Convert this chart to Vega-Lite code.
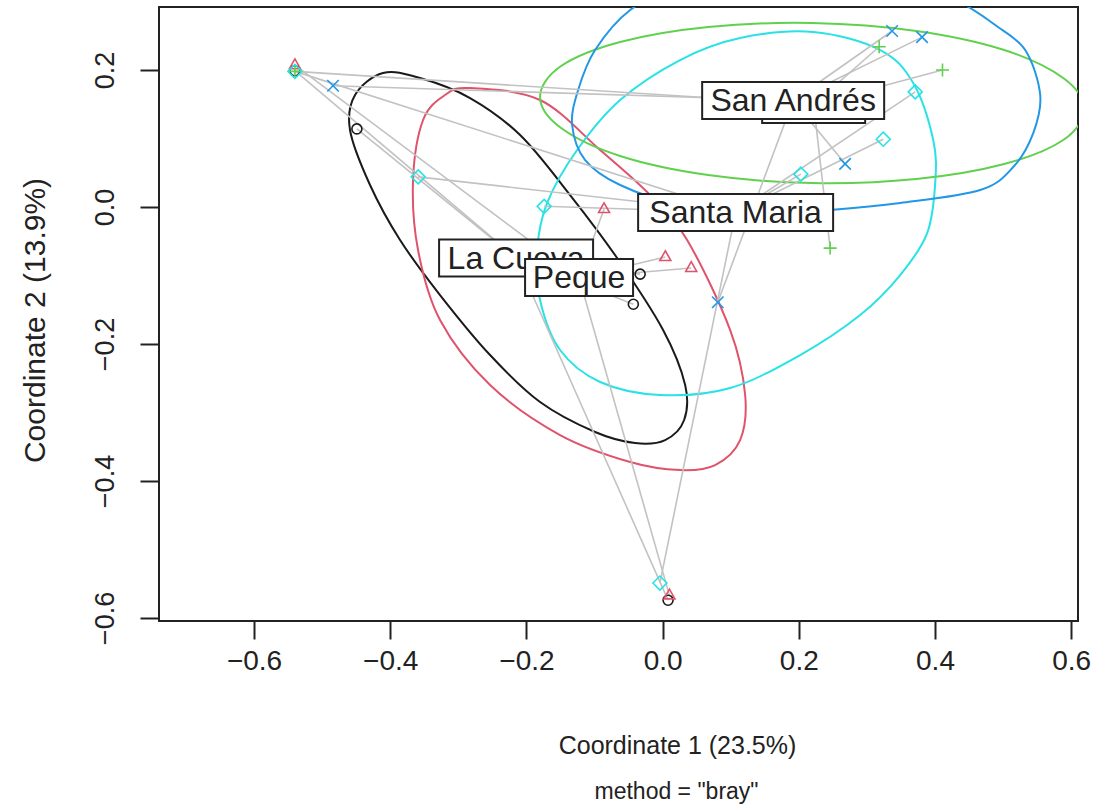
{
  "$schema": "https://vega.github.io/schema/vega-lite/v6.json",
  "width": 919,
  "height": 614,
  "autosize": {"type": "none"},
  "padding": {"left": 159, "top": 7, "right": 20, "bottom": 191},
  "background": "white",
  "title": {
    "text": "method = \"bray\"",
    "orient": "bottom", "anchor": "middle", "frame": "group",
    "dx": 58, "offset": 23,
    "fontSize": 23, "font": "Liberation Sans", "fontWeight": "normal", "color": "#222222"
  },
  "config": {
    "view": {"stroke": "#222222", "strokeWidth": 2},
    "font": "Liberation Sans"
  },
  "datasets": {
    "pts": [
      {"group": "La Cueva", "x": -0.540, "y": 0.199},
      {"group": "La Cueva", "x": -0.449, "y": 0.114},
      {"group": "La Cueva", "x": -0.033, "y": -0.098},
      {"group": "La Cueva", "x": -0.043, "y": -0.142},
      {"group": "La Cueva", "x": 0.008, "y": -0.574},
      {"group": "Peque", "x": -0.540, "y": 0.207},
      {"group": "Peque", "x": -0.086, "y": -0.003},
      {"group": "Peque", "x": 0.004, "y": -0.073},
      {"group": "Peque", "x": 0.042, "y": -0.089},
      {"group": "Peque", "x": 0.010, "y": -0.567},
      {"group": "grupo 3", "x": -0.540, "y": 0.198},
      {"group": "grupo 3", "x": 0.318, "y": 0.234},
      {"group": "grupo 3", "x": 0.411, "y": 0.200},
      {"group": "grupo 3", "x": 0.246, "y": -0.060},
      {"group": "San Andrés", "x": -0.484, "y": 0.177},
      {"group": "San Andrés", "x": 0.337, "y": 0.257},
      {"group": "San Andrés", "x": 0.381, "y": 0.248},
      {"group": "San Andrés", "x": 0.268, "y": 0.063},
      {"group": "San Andrés", "x": 0.081, "y": -0.139},
      {"group": "Santa Maria", "x": -0.540, "y": 0.198},
      {"group": "Santa Maria", "x": -0.359, "y": 0.044},
      {"group": "Santa Maria", "x": -0.174, "y": 0.001},
      {"group": "Santa Maria", "x": -0.004, "y": -0.549},
      {"group": "Santa Maria", "x": 0.203, "y": 0.048},
      {"group": "Santa Maria", "x": 0.324, "y": 0.099},
      {"group": "Santa Maria", "x": 0.371, "y": 0.168}
    ],
    "centroids": [
      {"group": "La Cueva", "label": "La Cueva", "cx": -0.2152, "cy": -0.0745},
      {"group": "Peque", "label": "Peque", "cx": -0.1227, "cy": -0.1029},
      {"group": "grupo 3", "label": "grupo 3", "cx": 0.2218, "cy": 0.1497},
      {"group": "San Andrés", "label": "San Andrés", "cx": 0.1917, "cy": 0.1555},
      {"group": "Santa Maria", "label": "Santa Maria", "cx": 0.1072, "cy": -0.0080}
    ],
    "ellipses": [
      {"group": "La Cueva", "i": 0, "x": -0.4106, "y": 0.1956},
      {"group": "La Cueva", "i": 1, "x": -0.3562, "y": 0.1883},
      {"group": "La Cueva", "i": 2, "x": -0.2828, "y": 0.1591},
      {"group": "La Cueva", "i": 3, "x": -0.2093, "y": 0.1051},
      {"group": "La Cueva", "i": 4, "x": -0.1359, "y": 0.0175},
      {"group": "La Cueva", "i": 5, "x": -0.0668, "y": -0.0745},
      {"group": "La Cueva", "i": 6, "x": 0.0007, "y": -0.1796},
      {"group": "La Cueva", "i": 7, "x": 0.0331, "y": -0.2599},
      {"group": "La Cueva", "i": 8, "x": 0.0316, "y": -0.3110},
      {"group": "La Cueva", "i": 9, "x": 0.0037, "y": -0.3402},
      {"group": "La Cueva", "i": 10, "x": -0.0404, "y": -0.3446},
      {"group": "La Cueva", "i": 11, "x": -0.0992, "y": -0.3285},
      {"group": "La Cueva", "i": 12, "x": -0.1800, "y": -0.2847},
      {"group": "La Cueva", "i": 13, "x": -0.2534, "y": -0.2161},
      {"group": "La Cueva", "i": 14, "x": -0.3269, "y": -0.1285},
      {"group": "La Cueva", "i": 15, "x": -0.3856, "y": -0.0482},
      {"group": "La Cueva", "i": 16, "x": -0.4297, "y": 0.0321},
      {"group": "La Cueva", "i": 17, "x": -0.4591, "y": 0.1124},
      {"group": "La Cueva", "i": 18, "x": -0.4517, "y": 0.1635},
      {"group": "Peque", "i": 0, "x": -0.2828, "y": 0.1737},
      {"group": "Peque", "i": 1, "x": -0.1800, "y": 0.1562},
      {"group": "Peque", "i": 2, "x": -0.0918, "y": 0.0832},
      {"group": "Peque", "i": 3, "x": -0.0184, "y": 0.0175},
      {"group": "Peque", "i": 4, "x": 0.0360, "y": -0.0482},
      {"group": "Peque", "i": 5, "x": 0.0992, "y": -0.1796},
      {"group": "Peque", "i": 6, "x": 0.1212, "y": -0.2745},
      {"group": "Peque", "i": 7, "x": 0.1138, "y": -0.3402},
      {"group": "Peque", "i": 8, "x": 0.0771, "y": -0.3767},
      {"group": "Peque", "i": 9, "x": 0.0257, "y": -0.3840},
      {"group": "Peque", "i": 10, "x": -0.0477, "y": -0.3723},
      {"group": "Peque", "i": 11, "x": -0.1506, "y": -0.3329},
      {"group": "Peque", "i": 12, "x": -0.2534, "y": -0.2599},
      {"group": "Peque", "i": 13, "x": -0.3269, "y": -0.1650},
      {"group": "Peque", "i": 14, "x": -0.3592, "y": -0.0628},
      {"group": "Peque", "i": 15, "x": -0.3665, "y": 0.0394},
      {"group": "Peque", "i": 16, "x": -0.3518, "y": 0.1270},
      {"group": "Peque", "i": 17, "x": -0.3195, "y": 0.1635},
      {"group": "Santa Maria", "i": 0, "x": 0.2211, "y": 0.2555},
      {"group": "Santa Maria", "i": 1, "x": 0.3195, "y": 0.2292},
      {"group": "Santa Maria", "i": 2, "x": 0.3680, "y": 0.1810},
      {"group": "Santa Maria", "i": 3, "x": 0.3974, "y": 0.0978},
      {"group": "Santa Maria", "i": 4, "x": 0.4003, "y": 0.0350},
      {"group": "Santa Maria", "i": 5, "x": 0.3885, "y": -0.0380},
      {"group": "Santa Maria", "i": 6, "x": 0.3489, "y": -0.0993},
      {"group": "Santa Maria", "i": 7, "x": 0.2901, "y": -0.1577},
      {"group": "Santa Maria", "i": 8, "x": 0.2020, "y": -0.2161},
      {"group": "Santa Maria", "i": 9, "x": 0.0992, "y": -0.2643},
      {"group": "Santa Maria", "i": 10, "x": -0.0037, "y": -0.2745},
      {"group": "Santa Maria", "i": 11, "x": -0.0918, "y": -0.2555},
      {"group": "Santa Maria", "i": 12, "x": -0.1506, "y": -0.2088},
      {"group": "Santa Maria", "i": 13, "x": -0.1800, "y": -0.1358},
      {"group": "Santa Maria", "i": 14, "x": -0.1843, "y": -0.0628},
      {"group": "Santa Maria", "i": 15, "x": -0.1697, "y": 0.0058},
      {"group": "Santa Maria", "i": 16, "x": -0.1256, "y": 0.0832},
      {"group": "Santa Maria", "i": 17, "x": -0.0624, "y": 0.1562},
      {"group": "Santa Maria", "i": 18, "x": 0.0257, "y": 0.2146},
      {"group": "Santa Maria", "i": 19, "x": 0.1138, "y": 0.2467},
      {"group": "grupo 3", "i": 0, "x": 0.6192, "y": 0.1431},
      {"group": "grupo 3", "i": 1, "x": 0.5883, "y": 0.1883},
      {"group": "grupo 3", "i": 2, "x": 0.5017, "y": 0.2292},
      {"group": "grupo 3", "i": 3, "x": 0.3724, "y": 0.2570},
      {"group": "grupo 3", "i": 4, "x": 0.2196, "y": 0.2686},
      {"group": "grupo 3", "i": 5, "x": 0.0668, "y": 0.2628},
      {"group": "grupo 3", "i": 6, "x": -0.0624, "y": 0.2409},
      {"group": "grupo 3", "i": 7, "x": -0.1491, "y": 0.2058},
      {"group": "grupo 3", "i": 8, "x": -0.1800, "y": 0.1606},
      {"group": "grupo 3", "i": 9, "x": -0.1491, "y": 0.1153},
      {"group": "grupo 3", "i": 10, "x": -0.0624, "y": 0.0745},
      {"group": "grupo 3", "i": 11, "x": 0.0668, "y": 0.0467},
      {"group": "grupo 3", "i": 12, "x": 0.2196, "y": 0.0350},
      {"group": "grupo 3", "i": 13, "x": 0.3724, "y": 0.0409},
      {"group": "grupo 3", "i": 14, "x": 0.5017, "y": 0.0628},
      {"group": "grupo 3", "i": 15, "x": 0.5883, "y": 0.0978},
      {"group": "San Andrés", "i": 0, "x": -0.1329, "y": 0.1197},
      {"group": "San Andrés", "i": 1, "x": -0.1138, "y": 0.0686},
      {"group": "San Andrés", "i": 2, "x": -0.0624, "y": 0.0321},
      {"group": "San Andrés", "i": 3, "x": 0.0257, "y": 0.0029},
      {"group": "San Andrés", "i": 4, "x": 0.1432, "y": -0.0102},
      {"group": "San Andrés", "i": 5, "x": 0.2460, "y": -0.0044},
      {"group": "San Andrés", "i": 6, "x": 0.3489, "y": 0.0058},
      {"group": "San Andrés", "i": 7, "x": 0.4664, "y": 0.0248},
      {"group": "San Andrés", "i": 8, "x": 0.5149, "y": 0.0584},
      {"group": "San Andrés", "i": 9, "x": 0.5443, "y": 0.1080},
      {"group": "San Andrés", "i": 10, "x": 0.5545, "y": 0.1635},
      {"group": "San Andrés", "i": 11, "x": 0.5325, "y": 0.2292},
      {"group": "San Andrés", "i": 12, "x": 0.4884, "y": 0.2657},
      {"group": "San Andrés", "i": 13, "x": 0.4443, "y": 0.2949},
      {"group": "San Andrés", "i": 14, "x": 0.3782, "y": 0.3285},
      {"group": "San Andrés", "i": 15, "x": 0.2754, "y": 0.3460},
      {"group": "San Andrés", "i": 16, "x": 0.1432, "y": 0.3460},
      {"group": "San Andrés", "i": 17, "x": 0.0257, "y": 0.3241},
      {"group": "San Andrés", "i": 18, "x": -0.0477, "y": 0.2876},
      {"group": "San Andrés", "i": 19, "x": -0.0992, "y": 0.2292},
      {"group": "San Andrés", "i": 20, "x": -0.1241, "y": 0.1708}
    ]
  },
  "layer": [
    {
      "data": {"name": "ellipses"},
      "mark": {"type": "line", "interpolate": "cardinal-closed", "strokeWidth": 2, "clip": true},
      "encoding": {
        "x": {
          "field": "x", "type": "quantitative",
          "scale": {"domain": [-0.7396, 0.610], "nice": false, "zero": false},
          "axis": {
            "values": [-0.6, -0.4, -0.2, 0, 0.2, 0.4, 0.6],
            "format": ".1f", "grid": false, "domain": false,
            "tickSize": 18, "tickWidth": 2, "tickColor": "#222222",
            "labelFontSize": 28, "labelFont": "Liberation Sans", "labelColor": "#222222",
            "labelPadding": 8, "labelFlush": false, "labelOverlap": false, "labelBaseline": "top",
            "title": "Coordinate 1 (23.5%)",
            "titleFontSize": 25, "titleFont": "Liberation Sans", "titleFontWeight": "normal", "titleColor": "#222222",
            "titleX": 518, "titleY": 124, "titleBaseline": "middle", "titleAlign": "center"
          }
        },
        "y": {
          "field": "y", "type": "quantitative",
          "scale": {"domain": [-0.6044, 0.292], "nice": false, "zero": false},
          "axis": {
            "values": [-0.6, -0.4, -0.2, 0, 0.2],
            "format": ".1f", "grid": false, "domain": false,
            "tickSize": 19, "tickWidth": 2, "tickColor": "#222222",
            "labelFontSize": 27, "labelFont": "Liberation Sans", "labelColor": "#222222",
            "labelAngle": -90, "labelAlign": "center", "labelBaseline": "alphabetic",
            "labelPadding": 27, "labelFlush": false, "labelOverlap": false,
            "title": "Coordinate 2 (13.9%)",
            "titleFontSize": 30, "titleFont": "Liberation Sans", "titleFontWeight": "normal", "titleColor": "#222222",
            "titleAngle": -90, "titleX": -124, "titleY": 313, "titleBaseline": "middle", "titleAlign": "center"
          }
        },
        "detail": {"field": "group"},
        "order": {"field": "i", "type": "quantitative"},
        "color": {
          "field": "group", "type": "nominal", "legend": null,
          "scale": {
            "domain": ["La Cueva", "Peque", "grupo 3", "San Andrés", "Santa Maria"],
            "range": ["#1a1a1a", "#DF536B", "#61D04F", "#2297E6", "#28E2E5"]
          }
        }
      }
    },
    {
      "data": {"name": "pts"},
      "transform": [
        {"lookup": "group", "from": {"data": {"name": "centroids"}, "key": "group", "fields": ["cx", "cy"]}}
      ],
      "mark": {"type": "rule", "color": "#c2c2c2", "strokeWidth": 1.6},
      "encoding": {
        "x": {"field": "x", "type": "quantitative"},
        "y": {"field": "y", "type": "quantitative"},
        "x2": {"field": "cx"},
        "y2": {"field": "cy"}
      }
    },
    {
      "data": {"name": "pts"},
      "mark": {"type": "point", "filled": false, "strokeWidth": 1.6, "size": 100, "opacity": 1},
      "encoding": {
        "x": {"field": "x", "type": "quantitative"},
        "y": {"field": "y", "type": "quantitative"},
        "color": {"field": "group", "type": "nominal", "legend": null},
        "shape": {
          "field": "group", "type": "nominal", "legend": null,
          "scale": {
            "domain": ["La Cueva", "Peque", "grupo 3", "San Andrés", "Santa Maria"],
            "range": [
              "circle",
              "M0,-1.25L1.1,0.7L-1.1,0.7Z",
              "M-1.3,0H1.3M0,-1.3V1.3",
              "M-1.15,-1.15L1.15,1.15M-1.15,1.15L1.15,-1.15",
              "M-1.4,0L0,-1.4L1.4,0L0,1.4Z"
            ]
          }
        }
      }
    },
    {
      "data": {"name": "centroids"},
      "transform": [{"filter": "datum.label === 'grupo 3'"}],
      "mark": {"type": "point", "shape": "M-51.5,-18.5H51.5V18.5H-51.5Z", "size": 4, "filled": true, "fill": "white", "stroke": "#222222", "strokeWidth": 2, "opacity": 1},
      "encoding": {"x": {"field": "cx", "type": "quantitative"}, "y": {"field": "cy", "type": "quantitative"}}
    },
    {
      "data": {"name": "centroids"},
      "transform": [{"filter": "datum.label === 'San Andrés'"}],
      "mark": {"type": "point", "shape": "M-91,-18.5H91V18.5H-91Z", "size": 4, "filled": true, "fill": "white", "stroke": "#222222", "strokeWidth": 2, "opacity": 1},
      "encoding": {"x": {"field": "cx", "type": "quantitative"}, "y": {"field": "cy", "type": "quantitative"}}
    },
    {
      "data": {"name": "centroids"},
      "transform": [{"filter": "datum.label === 'San Andrés'"}],
      "mark": {"type": "text", "fontSize": 32, "font": "Liberation Sans", "color": "#222222", "align": "center", "baseline": "middle", "dy": 1},
      "encoding": {"x": {"field": "cx", "type": "quantitative"}, "y": {"field": "cy", "type": "quantitative"}, "text": {"field": "label"}}
    },
    {
      "data": {"name": "centroids"},
      "transform": [{"filter": "datum.label === 'La Cueva'"}],
      "mark": {"type": "point", "shape": "M-77,-18.5H77V18.5H-77Z", "size": 4, "filled": true, "fill": "white", "stroke": "#222222", "strokeWidth": 2, "opacity": 1},
      "encoding": {"x": {"field": "cx", "type": "quantitative"}, "y": {"field": "cy", "type": "quantitative"}}
    },
    {
      "data": {"name": "centroids"},
      "transform": [{"filter": "datum.label === 'La Cueva'"}],
      "mark": {"type": "text", "fontSize": 32, "font": "Liberation Sans", "color": "#222222", "align": "center", "baseline": "middle", "dy": 1},
      "encoding": {"x": {"field": "cx", "type": "quantitative"}, "y": {"field": "cy", "type": "quantitative"}, "text": {"field": "label"}}
    },
    {
      "data": {"name": "centroids"},
      "transform": [{"filter": "datum.label === 'Peque'"}],
      "mark": {"type": "point", "shape": "M-54,-18.5H54V18.5H-54Z", "size": 4, "filled": true, "fill": "white", "stroke": "#222222", "strokeWidth": 2, "opacity": 1},
      "encoding": {"x": {"field": "cx", "type": "quantitative"}, "y": {"field": "cy", "type": "quantitative"}}
    },
    {
      "data": {"name": "centroids"},
      "transform": [{"filter": "datum.label === 'Peque'"}],
      "mark": {"type": "text", "fontSize": 32, "font": "Liberation Sans", "color": "#222222", "align": "center", "baseline": "middle", "dy": 1},
      "encoding": {"x": {"field": "cx", "type": "quantitative"}, "y": {"field": "cy", "type": "quantitative"}, "text": {"field": "label"}}
    },
    {
      "data": {"name": "centroids"},
      "transform": [{"filter": "datum.label === 'Santa Maria'"}],
      "mark": {"type": "point", "shape": "M-97.5,-18.5H97.5V18.5H-97.5Z", "size": 4, "filled": true, "fill": "white", "stroke": "#222222", "strokeWidth": 2, "opacity": 1},
      "encoding": {"x": {"field": "cx", "type": "quantitative"}, "y": {"field": "cy", "type": "quantitative"}}
    },
    {
      "data": {"name": "centroids"},
      "transform": [{"filter": "datum.label === 'Santa Maria'"}],
      "mark": {"type": "text", "fontSize": 32, "font": "Liberation Sans", "color": "#222222", "align": "center", "baseline": "middle", "dy": 1},
      "encoding": {"x": {"field": "cx", "type": "quantitative"}, "y": {"field": "cy", "type": "quantitative"}, "text": {"field": "label"}}
    }
  ]
}
